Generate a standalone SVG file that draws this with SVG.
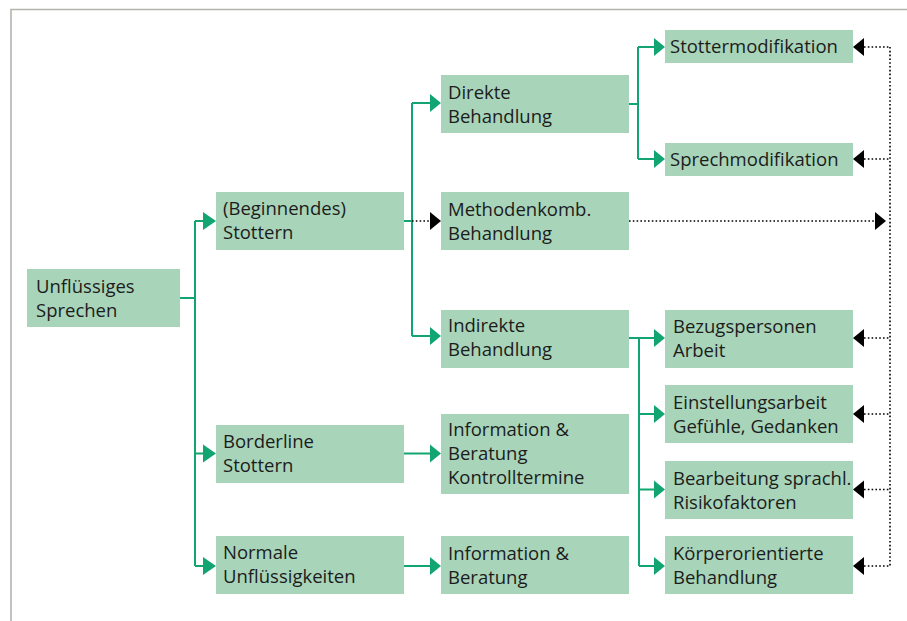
<svg xmlns="http://www.w3.org/2000/svg" width="907" height="621" viewBox="0 0 907 621">
<style>
.box{fill:#a8d4b9}
.t{font-family:"Open Sans","Liberation Sans",sans-serif;font-size:18.5px;fill:#1c1c1c}
.g{stroke:#12a571;stroke-width:2;fill:none}
.d{stroke:#000;stroke-width:1.6;stroke-dasharray:1.6 2.2;fill:none}
.ga{fill:#12a571}
.ba{fill:#000}
</style>
<rect x="0" y="0" width="907" height="621" fill="#fff"/>
<path d="M11,621 V9.5 H907" stroke="#b5b2ae" stroke-width="1.6" fill="none"/>
<g id="connectors">
  <path class="g" d="M180,298 H195 M195,221 V566 M195,221 H204 M195,453.5 H204 M195,566 H204"/>
  <path class="g" d="M404,221 H412 M412,103 V336 M412,103 H431 M412,336 H431"/>
  <path class="d" d="M412,221 H431"/>
  <path class="g" d="M629,104 H638 M638,47 V159 M638,47 H655 M638,159 H655"/>
  <path class="g" d="M629,338 H639 M639,338 V566 M639,338 H655 M639,414 H655 M639,489.5 H655 M639,566 H655"/>
  <path class="g" d="M404,453.5 H431 M404,566 H431"/>
  <path class="d" d="M629,221 H876"/>
  <path class="d" d="M890,47 V566 M864,47 H890 M864,159 H890 M864,338 H890 M864,414 H890 M864,489.5 H890 M864,566 H890"/>
  <g class="ga">
    <path d="M203,212 L216,221 L203,230 Z"/>
    <path d="M203,444.5 L216,453.5 L203,462.5 Z"/>
    <path d="M203,557 L216,566 L203,575 Z"/>
    <path d="M430,94 L441,103 L430,112 Z"/>
    <path d="M430,327 L441,336 L430,345 Z"/>
    <path d="M430,444.5 L441,453.5 L430,462.5 Z"/>
    <path d="M430,557 L441,566 L430,575 Z"/>
    <path d="M654,38 L665,47 L654,56 Z"/>
    <path d="M654,150 L665,159 L654,168 Z"/>
    <path d="M654,329 L665,338 L654,347 Z"/>
    <path d="M654,405 L665,414 L654,423 Z"/>
    <path d="M654,480.5 L665,489.5 L654,498.5 Z"/>
    <path d="M654,557 L665,566 L654,575 Z"/>
  </g>
  <g class="ba">
    <path d="M430,212 L441,221 L430,230 Z"/>
    <path d="M875,212 L886,221 L875,230 Z"/>
    <path d="M864,38 L853,47 L864,56 Z"/>
    <path d="M864,150 L853,159 L864,168 Z"/>
    <path d="M864,329 L853,338 L864,347 Z"/>
    <path d="M864,405 L853,414 L864,423 Z"/>
    <path d="M864,480.5 L853,489.5 L864,498.5 Z"/>
    <path d="M864,557 L853,566 L864,575 Z"/>
  </g>
</g>
<g id="unfluessiges"><rect class="box" x="27" y="269" width="153" height="58"/><text class="t" x="36" y="293">Unflüssiges</text><text class="t" x="36" y="317">Sprechen</text></g>
<g id="beginnendes"><rect class="box" x="216" y="192" width="188" height="58"/><text class="t" x="223" y="215">(Beginnendes)</text><text class="t" x="223" y="239">Stottern</text></g>
<g id="borderline"><rect class="box" x="216" y="425" width="188" height="58"/><text class="t" x="223" y="448">Borderline</text><text class="t" x="223" y="472">Stottern</text></g>
<g id="normale"><rect class="box" x="216" y="536" width="188" height="58"/><text class="t" x="223" y="559">Normale</text><text class="t" x="223" y="583">Unflüssigkeiten</text></g>
<g id="direkte"><rect class="box" x="441" y="75" width="188" height="58"/><text class="t" x="448" y="99">Direkte</text><text class="t" x="448" y="123">Behandlung</text></g>
<g id="methodenkomb"><rect class="box" x="441" y="192" width="188" height="58"/><text class="t" x="448" y="216">Methodenkomb.</text><text class="t" x="448" y="240">Behandlung</text></g>
<g id="indirekte"><rect class="box" x="441" y="310" width="188" height="58"/><text class="t" x="448" y="332">Indirekte</text><text class="t" x="448" y="356">Behandlung</text></g>
<g id="info1"><rect class="box" x="441" y="414" width="188" height="80"/><text class="t" x="448" y="436">Information &amp;</text><text class="t" x="448" y="460">Beratung</text><text class="t" x="448" y="484">Kontrolltermine</text></g>
<g id="info2"><rect class="box" x="441" y="536" width="188" height="58"/><text class="t" x="448" y="560">Information &amp;</text><text class="t" x="448" y="584">Beratung</text></g>
<g id="stottermod"><rect class="box" x="665" y="30" width="188" height="33"/><text class="t" x="670" y="53">Stottermodifikation</text></g>
<g id="sprechmod"><rect class="box" x="665" y="143" width="188" height="33"/><text class="t" x="670" y="166">Sprechmodifikation</text></g>
<g id="bezugspersonen"><rect class="box" x="665" y="310" width="188" height="58"/><text class="t" x="673" y="333">Bezugspersonen</text><text class="t" x="673" y="357">Arbeit</text></g>
<g id="einstellung"><rect class="box" x="665" y="385" width="188" height="58"/><text class="t" x="673" y="409">Einstellungsarbeit</text><text class="t" x="673" y="433">Gefühle, Gedanken</text></g>
<g id="bearbeitung"><rect class="box" x="665" y="461" width="188" height="58"/><text class="t" x="673" y="485">Bearbeitung sprachl.</text><text class="t" x="673" y="509">Risikofaktoren</text></g>
<g id="koerper"><rect class="box" x="665" y="536" width="188" height="58"/><text class="t" x="673" y="560">Körperorientierte</text><text class="t" x="673" y="584">Behandlung</text></g>
</svg>
